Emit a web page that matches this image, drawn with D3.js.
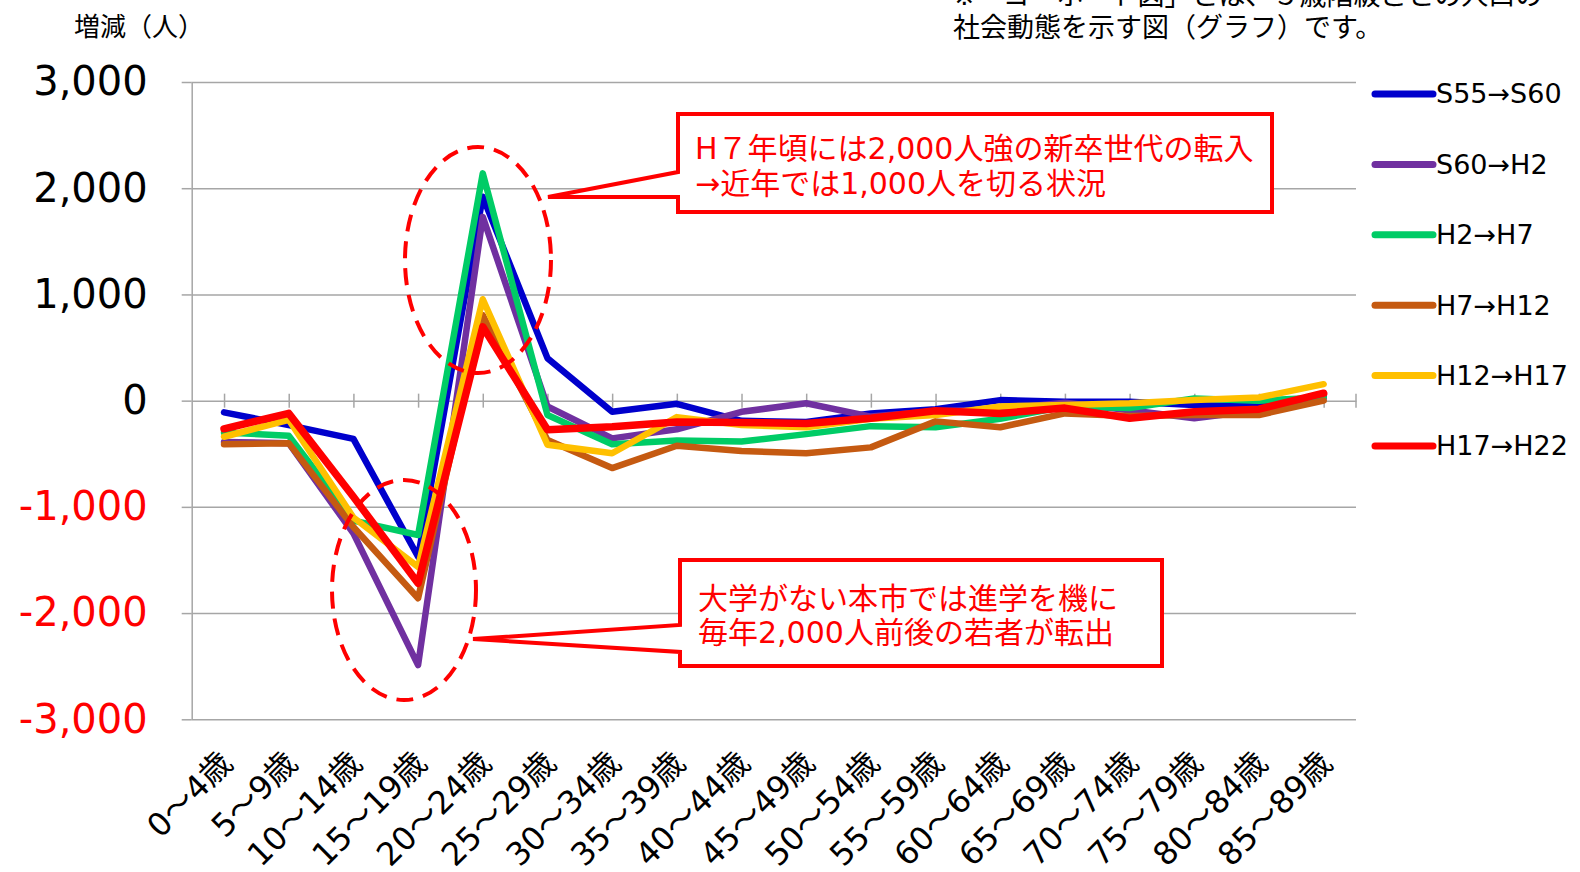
<!DOCTYPE html>
<html>
<head>
<meta charset="utf-8">
<script src="https://cdn.jsdelivr.net/npm/d3@7"></script>
<style>
	body { margin: 0; background: #fff; }
	svg text { font-family: "DejaVu Sans", "Noto Sans CJK JP", sans-serif; }
</style>
</head>
<body>
<script>
var categories = ['0～4歳', '5～9歳', '10～14歳', '15～19歳', '20～24歳', '25～29歳', '30～34歳', '35～39歳', '40～44歳',
	'45～49歳', '50～54歳', '55～59歳', '60～64歳', '65～69歳', '70～74歳', '75～79歳', '80～84歳', '85～89歳'];
var seriesNames = ['S55→S60', 'S60→H2', 'H2→H7', 'H7→H12', 'H12→H17', 'H17→H22'];
var s55_s60 = [-110, -230, -360, -1470, 1920, 400, -105, -30, -190, -200, -120, -80, 5, -10, -10, -40, -55, 40];
var s60_h2 = [-390, -400, -1250, -2490, 1730, -55, -355, -270, -105, -25, -150, -100, -80, -20, -90, -165, -90, 20];
var h2_h7 = [-300, -330, -1130, -1265, 2140, -135, -410, -375, -385, -315, -240, -250, -170, -55, -70, 20, 0, 30];
var h7_h12 = [-410, -400, -1190, -1860, 805, -370, -635, -425, -475, -495, -440, -195, -250, -120, -145, -135, -135, 0];
var h12_h17 = [-340, -180, -1100, -1565, 955, -415, -495, -155, -230, -250, -170, -135, -55, -40, -25, 5, 30, 155];
var h17_h22 = [-265, -120, -905, -1720, 695, -275, -245, -200, -205, -215, -165, -95, -120, -70, -165, -105, -80, 70];
var yTicks = [3000, 2000, 1000, 0, -1000, -2000, -3000];
var colors = ['#0000CC', '#7030A0', '#00CC66', '#C55A11', '#FFC000', '#FF0000'];
var seriesValues = [s55_s60, s60_h2, h2_h7, h7_h12, h12_h17, h17_h22];

var series = seriesNames.map((name, i) => ({ name: name, color: colors[i], values: seriesValues[i] }));

var svg = d3.select('body').append('svg').attr('width', 1580).attr('height', 872);
var plotLeft = 191.7, plotRight = 1356, plotTop = 82, plotBottom = 719.3;

var xScale = d3.scalePoint().domain(categories).range([plotLeft, plotRight]).padding(0.5);
var yScale = d3.scaleLinear().domain([-3000, 3000]).range([plotBottom, plotTop]);

// gridlines
var grid = svg.append('g').attr('transform', 'translate(' + plotLeft + ',0)')
	.call(d3.axisLeft(yScale).tickValues(yTicks.filter(d => d !== 0)).tickSize(-(plotRight - plotLeft)).tickFormat(''));
grid.select('.domain').remove();
grid.selectAll('line').attr('stroke', '#A6A6A6').attr('stroke-width', 1.5);

// y axis
var yAxis = svg.append('g').attr('transform', 'translate(' + plotLeft + ',0)')
	.call(d3.axisLeft(yScale).tickValues(yTicks).tickSize(10).tickSizeOuter(0).tickPadding(34)
		.tickFormat(d => (d < 0 ? '-' : '') + d3.format(',')(Math.abs(d))));
yAxis.select('.domain').attr('stroke', '#A6A6A6').attr('stroke-width', 1.5);
yAxis.selectAll('line').attr('stroke', '#A6A6A6').attr('stroke-width', 1.5);
yAxis.selectAll('text').attr('font-size', 40).attr('fill', d => d < 0 ? '#FF0000' : '#000');

// zero axis with crossing ticks
var xAxis = svg.append('g').attr('transform', 'translate(0,' + yScale(0) + ')')
	.call(d3.axisBottom(xScale).tickSize(7).tickSizeOuter(0).tickFormat(''));
xAxis.select('.domain').attr('stroke', '#A6A6A6').attr('stroke-width', 1.5);
xAxis.selectAll('line').attr('y1', -7).attr('stroke', '#A6A6A6').attr('stroke-width', 1.5);
xAxis.append('line').attr('x1', plotRight).attr('x2', plotRight).attr('y1', -7).attr('y2', 7)
	.attr('stroke', '#A6A6A6').attr('stroke-width', 1.5);

// category labels
var labels = svg.append('g').attr('transform', 'translate(0,' + plotBottom + ')')
	.call(d3.axisBottom(xScale).tickSize(0));
labels.select('.domain').remove();
labels.selectAll('text')
	.attr('y', 0).attr('dy', '0.35em').attr('font-size', 32).attr('fill', '#000')
	.attr('text-anchor', 'end')
	.attr('transform', 'translate(2,38) rotate(-45)');

// axis title & note
svg.append('text').attr('x', 74).attr('y', 36).attr('font-size', 26).text('増減（人）');
svg.append('text').attr('x', 953).attr('y', 5).attr('font-size', 27).text('※「コーホート図」とは、５歳階級ごとの人口の');
svg.append('text').attr('x', 953).attr('y', 37).attr('font-size', 27).text('社会動態を示す図（グラフ）です。');

// lines
var line = d3.line().x((d, i) => xScale(categories[i])).y(d => yScale(d));
svg.append('g').selectAll('path').data(series).enter().append('path')
	.attr('d', d => line(d.values))
	.attr('fill', 'none')
	.attr('stroke', d => d.color)
	.attr('stroke-width', d => d.name === 'H17→H22' ? 7.5 : 6.5)
	.attr('stroke-linejoin', 'round')
	.attr('stroke-linecap', 'round');

// dashed ellipses
var ellipses = [[478, 260, 73, 113], [404, 590, 72, 110]];
svg.append('g').selectAll('ellipse').data(ellipses).enter().append('ellipse')
	.attr('cx', d => d[0]).attr('cy', d => d[1]).attr('rx', d => d[2]).attr('ry', d => d[3])
	.attr('fill', 'none').attr('stroke', '#FF0000').attr('stroke-width', 4).attr('stroke-dasharray', '17,10');

// callouts
var callouts = [
	{ path: 'M678,114 H1272 V212 H678 V197 L548,197 L678,172 Z', x: 695, y: [148, 183],
		lines: ['H７年頃には2,000人強の新卒世代の転入', '→近年では1,000人を切る状況'] },
	{ path: 'M680,560 H1162 V666 H680 V652 L473,639 L680,625 Z', x: 698, y: [598, 632],
		lines: ['大学がない本市では進学を機に', '毎年2,000人前後の若者が転出'] }
];
var cg = svg.append('g').selectAll('g').data(callouts).enter().append('g');
cg.append('path').attr('d', d => d.path).attr('fill', '#fff').attr('stroke', '#FF0000')
	.attr('stroke-width', 4).attr('stroke-linejoin', 'miter');
cg.each(function(d){
	var g = d3.select(this);
	d.lines.forEach((t, i) => {
		g.append('text').attr('x', d.x).attr('y', d.y[i]).attr('dy', '0.35em')
			.attr('font-size', 30).attr('fill', '#FF0000').text(t);
	});
});

// legend
var legend = svg.append('g').selectAll('g').data(series).enter().append('g')
	.attr('transform', (d, i) => 'translate(1375,' + (94 + i * 70.4) + ')');
legend.append('line').attr('x1', 0).attr('x2', 58)
	.attr('stroke', d => d.color).attr('stroke-width', 7).attr('stroke-linecap', 'round');
legend.append('text').attr('x', 61).attr('dy', '0.35em').attr('font-size', 27).attr('fill', '#000')
	.text(d => d.name);
</script>
</body>
</html>
